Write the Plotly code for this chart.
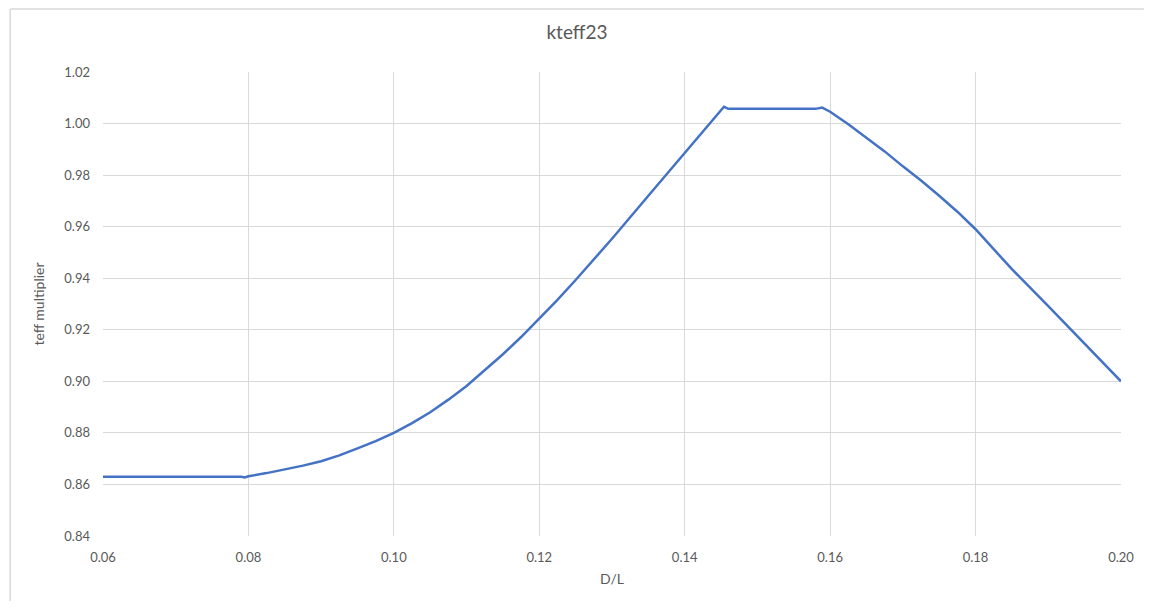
import plotly.graph_objects as go

# Data
d_over_l = [0.060, 0.070, 0.079, 0.0795, 0.080, 0.0825, 0.085, 0.0875, 0.090, 0.0925,
            0.095, 0.0975, 0.100, 0.1025, 0.105, 0.1075, 0.110, 0.1125, 0.115, 0.1175,
            0.120, 0.1225, 0.125, 0.1275, 0.130, 0.135, 0.140, 0.1454, 0.146, 0.152,
            0.158, 0.1589, 0.160, 0.1625, 0.165, 0.1675, 0.170, 0.1725, 0.175, 0.1775,
            0.180, 0.185, 0.190, 0.195, 0.200]
teff_mult = [0.8630, 0.8630, 0.8630, 0.8627, 0.8632, 0.8644, 0.8658, 0.8673, 0.8690, 0.8713,
             0.8740, 0.8768, 0.8800, 0.8838, 0.8880, 0.8929, 0.8982, 0.9042, 0.9105, 0.9172,
             0.9243, 0.9316, 0.9393, 0.9472, 0.9553, 0.9720, 0.9884, 1.0065, 1.0057, 1.0057,
             1.0057, 1.0062, 1.0046, 0.9997, 0.9946, 0.9892, 0.9834, 0.9779, 0.9720, 0.9658,
             0.9590, 0.9435, 0.9292, 0.9146, 0.9000]

x_ticks = [0.06, 0.08, 0.10, 0.12, 0.14, 0.16, 0.18, 0.20]
y_ticks = [0.84, 0.86, 0.88, 0.90, 0.92, 0.94, 0.96, 0.98, 1.00, 1.02]

OFF = 8  # page body margin
W, H = 1154 - 2 * OFF, 609 - 2 * OFF
L, T = 103 - OFF, 72 - OFF
R = W - (1123 - OFF)
B = H - (536 - OFF)
pw, ph = W - L - R, H - T - B

FONT = "Lato, 'Open Sans', sans-serif"
GRID = "#d9d9d9"
TXT = "#595959"

fig = go.Figure()
fig.add_trace(go.Scatter(x=d_over_l, y=teff_mult, mode="lines",
                         line=dict(color="#4472C4", width=2.5, shape="linear"),
                         showlegend=False))

fig.update_layout(
    width=W, height=H,
    margin=dict(l=L, r=R, t=T, b=B),
    paper_bgcolor="white", plot_bgcolor="white",
    font=dict(family=FONT, color=TXT, size=13),
    title=dict(text="kteff23", x=(577 - OFF) / W, xref="container",
               y=1 - (32 - OFF) / H, yref="container",
               xanchor="center", yanchor="middle",
               font=dict(size=19, color=TXT, family=FONT)),
    xaxis=dict(range=[0.06, 0.20], tickvals=x_ticks, ticktext=[f"{v:.2f}" for v in x_ticks],
               showgrid=True, gridcolor=GRID, gridwidth=1, zeroline=False,
               showline=False, ticks="", ticklabelstandoff=12,
               title=dict(text="D/L", font=dict(size=14, color=TXT), standoff=10),
               tickfont=dict(size=13, color=TXT)),
    yaxis=dict(range=[0.84, 1.02], tickvals=y_ticks, ticktext=[f"{v:.2f}" for v in y_ticks],
               showgrid=True, gridcolor=GRID, gridwidth=1, zeroline=False,
               showline=False, ticks="", ticklabelstandoff=12,
               title=dict(text="teff multiplier", font=dict(size=14, color=TXT), standoff=16),
               tickfont=dict(size=13, color=TXT)),
)

# outer chart frame (light gray): only the left and top edges are visible in the view
fx0 = (2 - L) / pw
fx1 = (W - L) / pw
fy_top = (ph + T - 1) / ph
fy_bot = -(H - T - ph) / ph
fig.add_shape(type="line", xref="paper", yref="paper", x0=fx0, x1=fx0, y0=fy_bot, y1=fy_top,
              line=dict(color="#d9d9d9", width=1.5), layer="below")
fig.add_shape(type="line", xref="paper", yref="paper", x0=fx0, x1=fx1, y0=fy_top, y1=fy_top,
              line=dict(color="#d9d9d9", width=1.5), layer="below")

fig.write_html("out.html")
